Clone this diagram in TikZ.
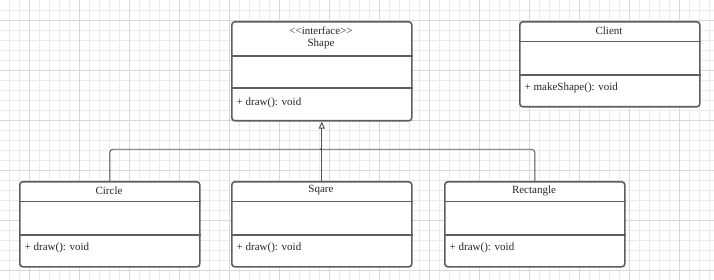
\documentclass[tikz,border=0pt]{standalone}
\usepackage{fontspec}
\setmainfont{Liberation Serif}
\usetikzlibrary{arrows.meta,calc}
\definecolor{boxc}{HTML}{5E5E5E}
\definecolor{linec}{HTML}{505050}
\definecolor{gridminor}{HTML}{EBEBEB}
\definecolor{gridmajor}{HTML}{D8D8D8}
\begin{document}
\begin{tikzpicture}[x=1pt,y=-1pt,
  cls/.style={draw=boxc, line width=1.6pt, rounded corners=3pt, fill=white,
    minimum width=180pt, inner sep=0pt, anchor=north west},
  divider/.style={draw=boxc, line width=1.6pt},
  txt/.style={inner sep=0pt, font=\fontsize{11}{13}\selectfont, text=black!85},
  conn/.style={draw=linec, line width=0.9pt, rounded corners=3pt},
  inh/.style={conn, -{Triangle[open, width=6pt, length=7pt]}}
]
\useasboundingbox (0,0) rectangle (714,280);
\fill[white] (0,0) rectangle (714,280);
% grid
\foreach \i in {0,...,70} { \draw[gridminor, line width=0.8pt] ({9.5+10*\i},0) -- ({9.5+10*\i},280); }
\foreach \j in {1,...,27} { \draw[gridminor, line width=0.8pt] (0,{10*\j}) -- (714,{10*\j}); }
\foreach \i in {0,...,13} { \draw[gridmajor, line width=0.8pt] ({29.5+50*\i},0) -- ({29.5+50*\i},280); }
\foreach \j in {0,...,5} { \draw[gridmajor, line width=0.8pt] (0,{20+50*\j}) -- (714,{20+50*\j}); }

% class boxes
\node[cls, minimum height=99pt] (shape) at (231,21) {};
\node[cls, minimum height=85pt] (client) at (519,21) {};
\node[cls, minimum height=85pt] (circle) at (19,181) {};
\node[cls, minimum height=85pt] (sqare) at (231,181) {};
\node[cls, minimum height=85pt] (rect) at (444,181) {};

% dividers
\draw[divider] ([yshift=-35pt]shape.north west) -- ([yshift=-35pt]shape.north east);
\draw[divider] ([yshift=-67pt]shape.north west) -- ([yshift=-67pt]shape.north east);
\foreach \n in {client,circle,sqare,rect} {
  \draw[divider] ([yshift=-20.7pt]\n.north west) -- ([yshift=-20.7pt]\n.north east);
  \draw[divider] ([yshift=-54pt]\n.north west) -- ([yshift=-54pt]\n.north east);
}

% texts
\node[txt] (shapest) at (321,30.7) {{<}{<}interface{>}{>}};
\node[txt] (shapet) at (321,44.3) {Shape};
\node[txt, anchor=west] (shapem) at (236.5,103.3) {+ draw(): void};
\node[txt] (clientt) at (609,30.7) {Client};
\node[txt, anchor=west] (clientm) at (524.5,88.3) {+ makeShape(): void};
\node[txt] (circlet) at (109,190.5) {Circle};
\node[txt, anchor=west] (circlem) at (24.5,248.3) {+ draw(): void};
\node[txt] (sqaret) at (321,190.5) {Sqare};
\node[txt, anchor=west] (sqarem) at (236.5,248.3) {+ draw(): void};
\node[txt] (rectt) at (534,190.5) {Rectangle};
\node[txt, anchor=west] (rectm) at (449.5,248.3) {+ draw(): void};

% connectors
\coordinate (jn) at (321,149.3);
\draw[conn] (circle.north) |- (jn);
\draw[conn] (rect.north) |- (jn);
\draw[inh] (sqare.north) -- (shape.south);
\fill[linec] (jn) circle (1.2pt);
\end{tikzpicture}
\end{document}
